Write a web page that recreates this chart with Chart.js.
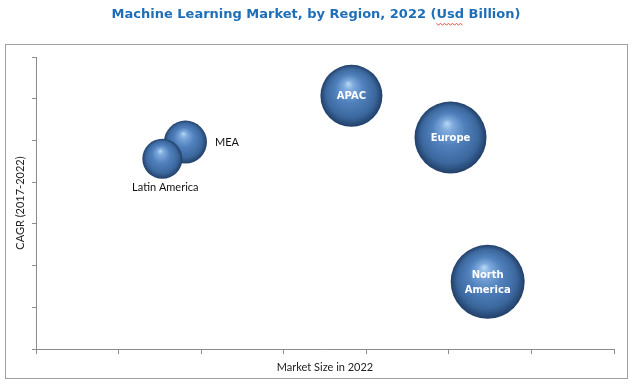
<!DOCTYPE html>
<html>
<head>
<meta charset="utf-8">
<script src="https://cdn.jsdelivr.net/npm/chart.js@4"></script>
<style>
  html, body { margin: 0; padding: 0; background: #fff; }
  #wrap { width: 633px; height: 385px; }
</style>
</head>
<body>
<div id="wrap"><canvas id="grafico" width="633" height="385"></canvas></div>
<script>
const regioes = ['MEA', 'Latin America', 'APAC', 'Europe', 'North America'];
const tamanhoMercado = [1.81, 1.53, 3.82, 5.02, 5.47];
const cagr = [4.96, 4.56, 6.07, 5.07, 1.61];
const raioBolha = [21.5, 20, 31, 36, 37];
const ticksX = [0, 1, 2, 3, 4, 5, 6, 7];
const ticksY = [0, 1, 2, 3, 4, 5, 6, 7];

const titulo = 'Machine Learning Market, by Region, 2022 (Usd Billion)';
const corTitulo = '#1f6fb8';
const corEixo = '#8c8c8c';

const pontos = regioes.map((nome, i) => ({ x: tamanhoMercado[i], y: cagr[i], r: raioBolha[i] }));

// sphere-ish shading for each bubble
function PreencherEsfera(context) {
    const chart = context.chart;
    const raw = context.raw;
    if (!raw || !chart.chartArea) return '#4a7bb8';
    const x = chart.scales.x.getPixelForValue(raw.x);
    const y = chart.scales.y.getPixelForValue(raw.y);
    const r = raw.r;
    const g = chart.ctx.createRadialGradient(x - 0.1 * r, y - 0.4 * r, 0, x, y, r);
    g.addColorStop(0, '#b9d8f7');
    g.addColorStop(0.16, '#7eaadc');
    g.addColorStop(0.45, '#5181bd');
    g.addColorStop(0.8, '#3b679d');
    g.addColorStop(1, '#213f68');
    return g;
}

const moldura = {
    id: 'moldura',
    beforeDraw(chart) {
        const ctx = chart.ctx;
        ctx.save();
        ctx.strokeStyle = '#a0a0a0';
        ctx.lineWidth = 1;
        ctx.strokeRect(5.5, 44.5, 622, 334);

        ctx.font = 'bold 13px "DejaVu Sans"';
        ctx.fillStyle = corTitulo;
        ctx.textAlign = 'center';
        ctx.textBaseline = 'middle';
        ctx.fillText(titulo, 316, 15);

        // spellcheck squiggle under "Usd"
        const inicio = 316 - ctx.measureText(titulo).width / 2 + ctx.measureText('Machine Learning Market, by Region, 2022 (').width;
        const largura = ctx.measureText('Usd').width;
        ctx.strokeStyle = '#e02020';
        ctx.lineWidth = 0.8;
        ctx.beginPath();
        for (let px = 0; px <= largura; px += 2) {
            const py = 23.5 + (Math.round(px / 2) % 2 === 0 ? 0 : 1.5);
            if (px === 0) ctx.moveTo(inicio + px, py); else ctx.lineTo(inicio + px, py);
        }
        ctx.stroke();
        ctx.restore();
    }
};

const rotulos = {
    id: 'rotulos',
    afterDatasetsDraw(chart) {
        const ctx = chart.ctx;
        const meta = chart.getDatasetMeta(0);
        ctx.save();
        ctx.textBaseline = 'middle';
        meta.data.forEach((el, i) => {
            const nome = regioes[i];
            const { x, y } = el.getProps(['x', 'y'], true);
            const r = raioBolha[i];
            if (nome === 'MEA') {
                ctx.font = '11px Lato';
                ctx.fillStyle = '#111';
                ctx.textAlign = 'left';
                ctx.fillText(nome, x + r + 8, y);
            } else if (nome === 'Latin America') {
                ctx.font = '11px Lato';
                ctx.fillStyle = '#111';
                ctx.textAlign = 'center';
                ctx.fillText(nome, x + 3, y + r + 9);
            } else {
                ctx.font = 'bold 10px "DejaVu Sans"';
                ctx.fillStyle = '#ffffff';
                ctx.textAlign = 'center';
                const linhas = nome === 'North America' ? ['North', 'America'] : [nome];
                linhas.forEach((l, k) => {
                    ctx.fillText(l, x, y + (k - (linhas.length - 1) / 2) * 15.5 + 1);
                });
            }
        });
        ctx.restore();
    }
};

const config = {
    type: 'bubble',
    data: {
        datasets: [{
            label: 'Regiões',
            data: pontos,
            backgroundColor: PreencherEsfera,
            borderWidth: 0,
            hoverRadius: 0
        }]
    },
    options: {
        responsive: false,
        animation: false,
        events: [],
        layout: { autoPadding: false, padding: { top: 57, left: 0, right: 19, bottom: 0 } },
        plugins: {
            legend: { display: false },
            tooltip: { enabled: false },
            title: { display: false }
        },
        scales: {
            x: {
                type: 'linear',
                min: ticksX[0],
                max: ticksX[ticksX.length - 1],
                afterBuildTicks: s => { s.ticks = ticksX.map(v => ({ value: v })); },
                afterFit: s => { s.height = 36; },
                ticks: { display: false },
                grid: { drawOnChartArea: false, drawTicks: true, tickLength: 5, color: corEixo },
                border: { display: true, color: corEixo },
                title: {
                    display: true,
                    text: 'Market Size in 2022',
                    color: '#222',
                    font: { family: 'Lato', size: 11 },
                    padding: { top: 0, bottom: 11 }
                }
            },
            y: {
                type: 'linear',
                min: ticksY[0],
                max: ticksY[ticksY.length - 1],
                afterBuildTicks: s => { s.ticks = ticksY.map(v => ({ value: v })); },
                afterFit: s => { s.width = 36; },
                ticks: { display: false },
                grid: { drawOnChartArea: false, drawTicks: true, tickLength: 4, color: corEixo },
                border: { display: true, color: corEixo },
                title: {
                    display: true,
                    text: 'CAGR (2017-2022)',
                    color: '#222',
                    font: { family: 'Lato', size: 11 },
                    padding: { top: 14, bottom: 0 }
                }
            }
        }
    },
    plugins: [moldura, rotulos]
};

new Chart(document.getElementById('grafico').getContext('2d'), config);
</script>
</body>
</html>
